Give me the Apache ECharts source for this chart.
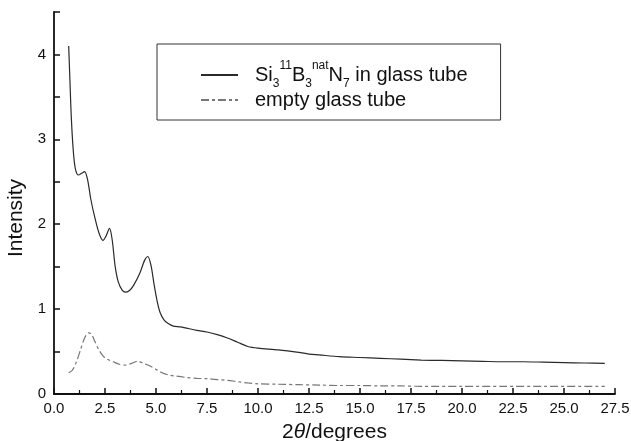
<!DOCTYPE html>
<html><head><meta charset="utf-8">
<script src="https://cdn.jsdelivr.net/npm/echarts@6/dist/echarts.min.js"></script>
<style>html,body{margin:0;padding:0;background:#fff}#c{width:631px;height:441px}</style>
</head><body><div id="c"></div>
<script>
const seriesNames = ['sample', 'empty'];
const sampleData = [[0.72,4.1],[0.78,3.7],[0.85,3.25],[0.95,2.85],[1.05,2.65],[1.2,2.58],[1.35,2.6],[1.5,2.62],[1.65,2.52],[1.8,2.3],[2.0,2.08],[2.2,1.9],[2.4,1.81],[2.55,1.86],[2.72,1.95],[2.85,1.82],[3.0,1.5],[3.15,1.32],[3.35,1.22],[3.5,1.2],[3.7,1.22],[3.9,1.28],[4.2,1.42],[4.45,1.58],[4.6,1.62],[4.75,1.52],[4.9,1.3],[5.05,1.1],[5.2,0.96],[5.4,0.87],[5.6,0.83],[5.85,0.8],[6.2,0.79],[7.0,0.75],[7.5,0.73],[8.0,0.7],[8.5,0.66],[9.0,0.61],[9.5,0.56],[10.0,0.54],[11,0.52],[12,0.49],[12.5,0.47],[13,0.46],[14,0.44],[15,0.43],[16,0.42],[17,0.41],[18,0.40],[19,0.395],[20,0.39],[21,0.385],[22,0.38],[23,0.38],[24,0.375],[25,0.37],[26,0.365],[27,0.36]];
const emptyData = [[0.72,0.25],[0.9,0.28],[1.1,0.38],[1.3,0.52],[1.5,0.66],[1.7,0.72],[1.85,0.7],[2.0,0.62],[2.2,0.52],[2.4,0.45],[2.6,0.41],[2.9,0.38],[3.2,0.35],[3.5,0.34],[3.8,0.36],[4.1,0.385],[4.4,0.36],[4.7,0.33],[5.0,0.29],[5.3,0.25],[5.6,0.225],[6.0,0.21],[6.5,0.195],[7.0,0.185],[7.5,0.18],[8.0,0.17],[8.5,0.16],[9.0,0.145],[9.5,0.13],[10,0.12],[11,0.115],[12,0.11],[13,0.105],[14,0.1],[15,0.1],[16,0.095],[17,0.095],[18,0.09],[20,0.09],[22,0.09],[24,0.09],[27,0.09]];
const xTicks = {min:0, max:27.5, interval:2.5};
const yTicks = {min:0, max:4.5, interval:0.5};

const FONT = '"Liberation Sans", Arial, sans-serif';
const chart = echarts.init(document.getElementById('c'), null, {renderer:'canvas'});
const axisCommon = {
  axisLine:{show:true, lineStyle:{color:'#111', width:1.8}},
  axisTick:{show:true, inside:true, length:6, lineStyle:{color:'#111', width:1.5}},
  minorTick:{show:true, splitNumber:2, length:4, lineStyle:{color:'#111', width:1.2}},
  splitLine:{show:false}
};
chart.setOption({
  animation:false,
  backgroundColor:'#fff',
  grid:{left:54, right:16, top:12, bottom:47, containLabel:false, outerBoundsMode:'none'},
  legend:{
    left:157, top:44, orient:'vertical',
    data:seriesNames,
    borderColor:'#333', borderWidth:1, borderRadius:0,
    padding:[16, 33, 10, 43],
    itemGap:0, itemWidth:37, itemHeight:12,
    itemStyle:{opacity:0},
    formatter: function(n){
      if(n==='sample') return '{g|}{n|Si}{sub|3}{sup|11}{n|B}{sub|3}{sup|nat}{n|N}{sub|7}{n| in glass tube}';
      return '{g|}{n|empty glass tube}';
    },
    textStyle:{
      fontFamily:FONT, fontSize:20, color:'#111',
      rich:{
        g:{width:12, lineHeight:24},
        n:{fontFamily:FONT, fontSize:20, color:'#111', lineHeight:24, verticalAlign:'middle'},
        sub:{fontFamily:FONT, fontSize:12, color:'#111', lineHeight:24, verticalAlign:'bottom', padding:[0,0,-3,0]},
        sup:{fontFamily:FONT, fontSize:12, color:'#111', lineHeight:24, verticalAlign:'top', padding:[-3,0,0,0]}
      }
    }
  },
  xAxis:Object.assign({}, axisCommon, {
    type:'value', min:xTicks.min, max:xTicks.max, interval:xTicks.interval,
    name:'{a|2}{t|θ}{a|/degrees}', nameLocation:'middle', nameGap:28,
    nameTextStyle:{rich:{a:{fontFamily:FONT, fontSize:21, color:'#111'}, t:{fontFamily:FONT, fontSize:21, fontStyle:'italic', color:'#111'}}},
    axisLabel:{color:'#111', fontFamily:FONT, fontSize:15, margin:7, formatter:v=>v.toFixed(1)}
  }),
  yAxis:Object.assign({}, axisCommon, {
    type:'value', min:yTicks.min, max:yTicks.max, interval:yTicks.interval,
    name:'Intensity', nameLocation:'middle', nameGap:24,
    nameTextStyle:{fontFamily:FONT, fontSize:21, color:'#111', padding:[0,30,0,0]},
    minorTick:{show:false},
    axisLabel:{color:'#111', fontFamily:FONT, fontSize:15, margin:8, formatter:v=>Number.isInteger(v)?String(v):''}
  }),
  series:[
    {name:'sample', type:'line', data:sampleData, showSymbol:false, symbol:'none', smooth:0.3,
     lineStyle:{color:'#2a2a2a', width:1.2}, itemStyle:{color:'#2a2a2a'}},
    {name:'empty', type:'line', data:emptyData, showSymbol:false, symbol:'none', smooth:0.3,
     lineStyle:{color:'#777', width:1.2, type:[8,3,3,3]}, itemStyle:{color:'#777'}}
  ]
});
</script></body></html>
